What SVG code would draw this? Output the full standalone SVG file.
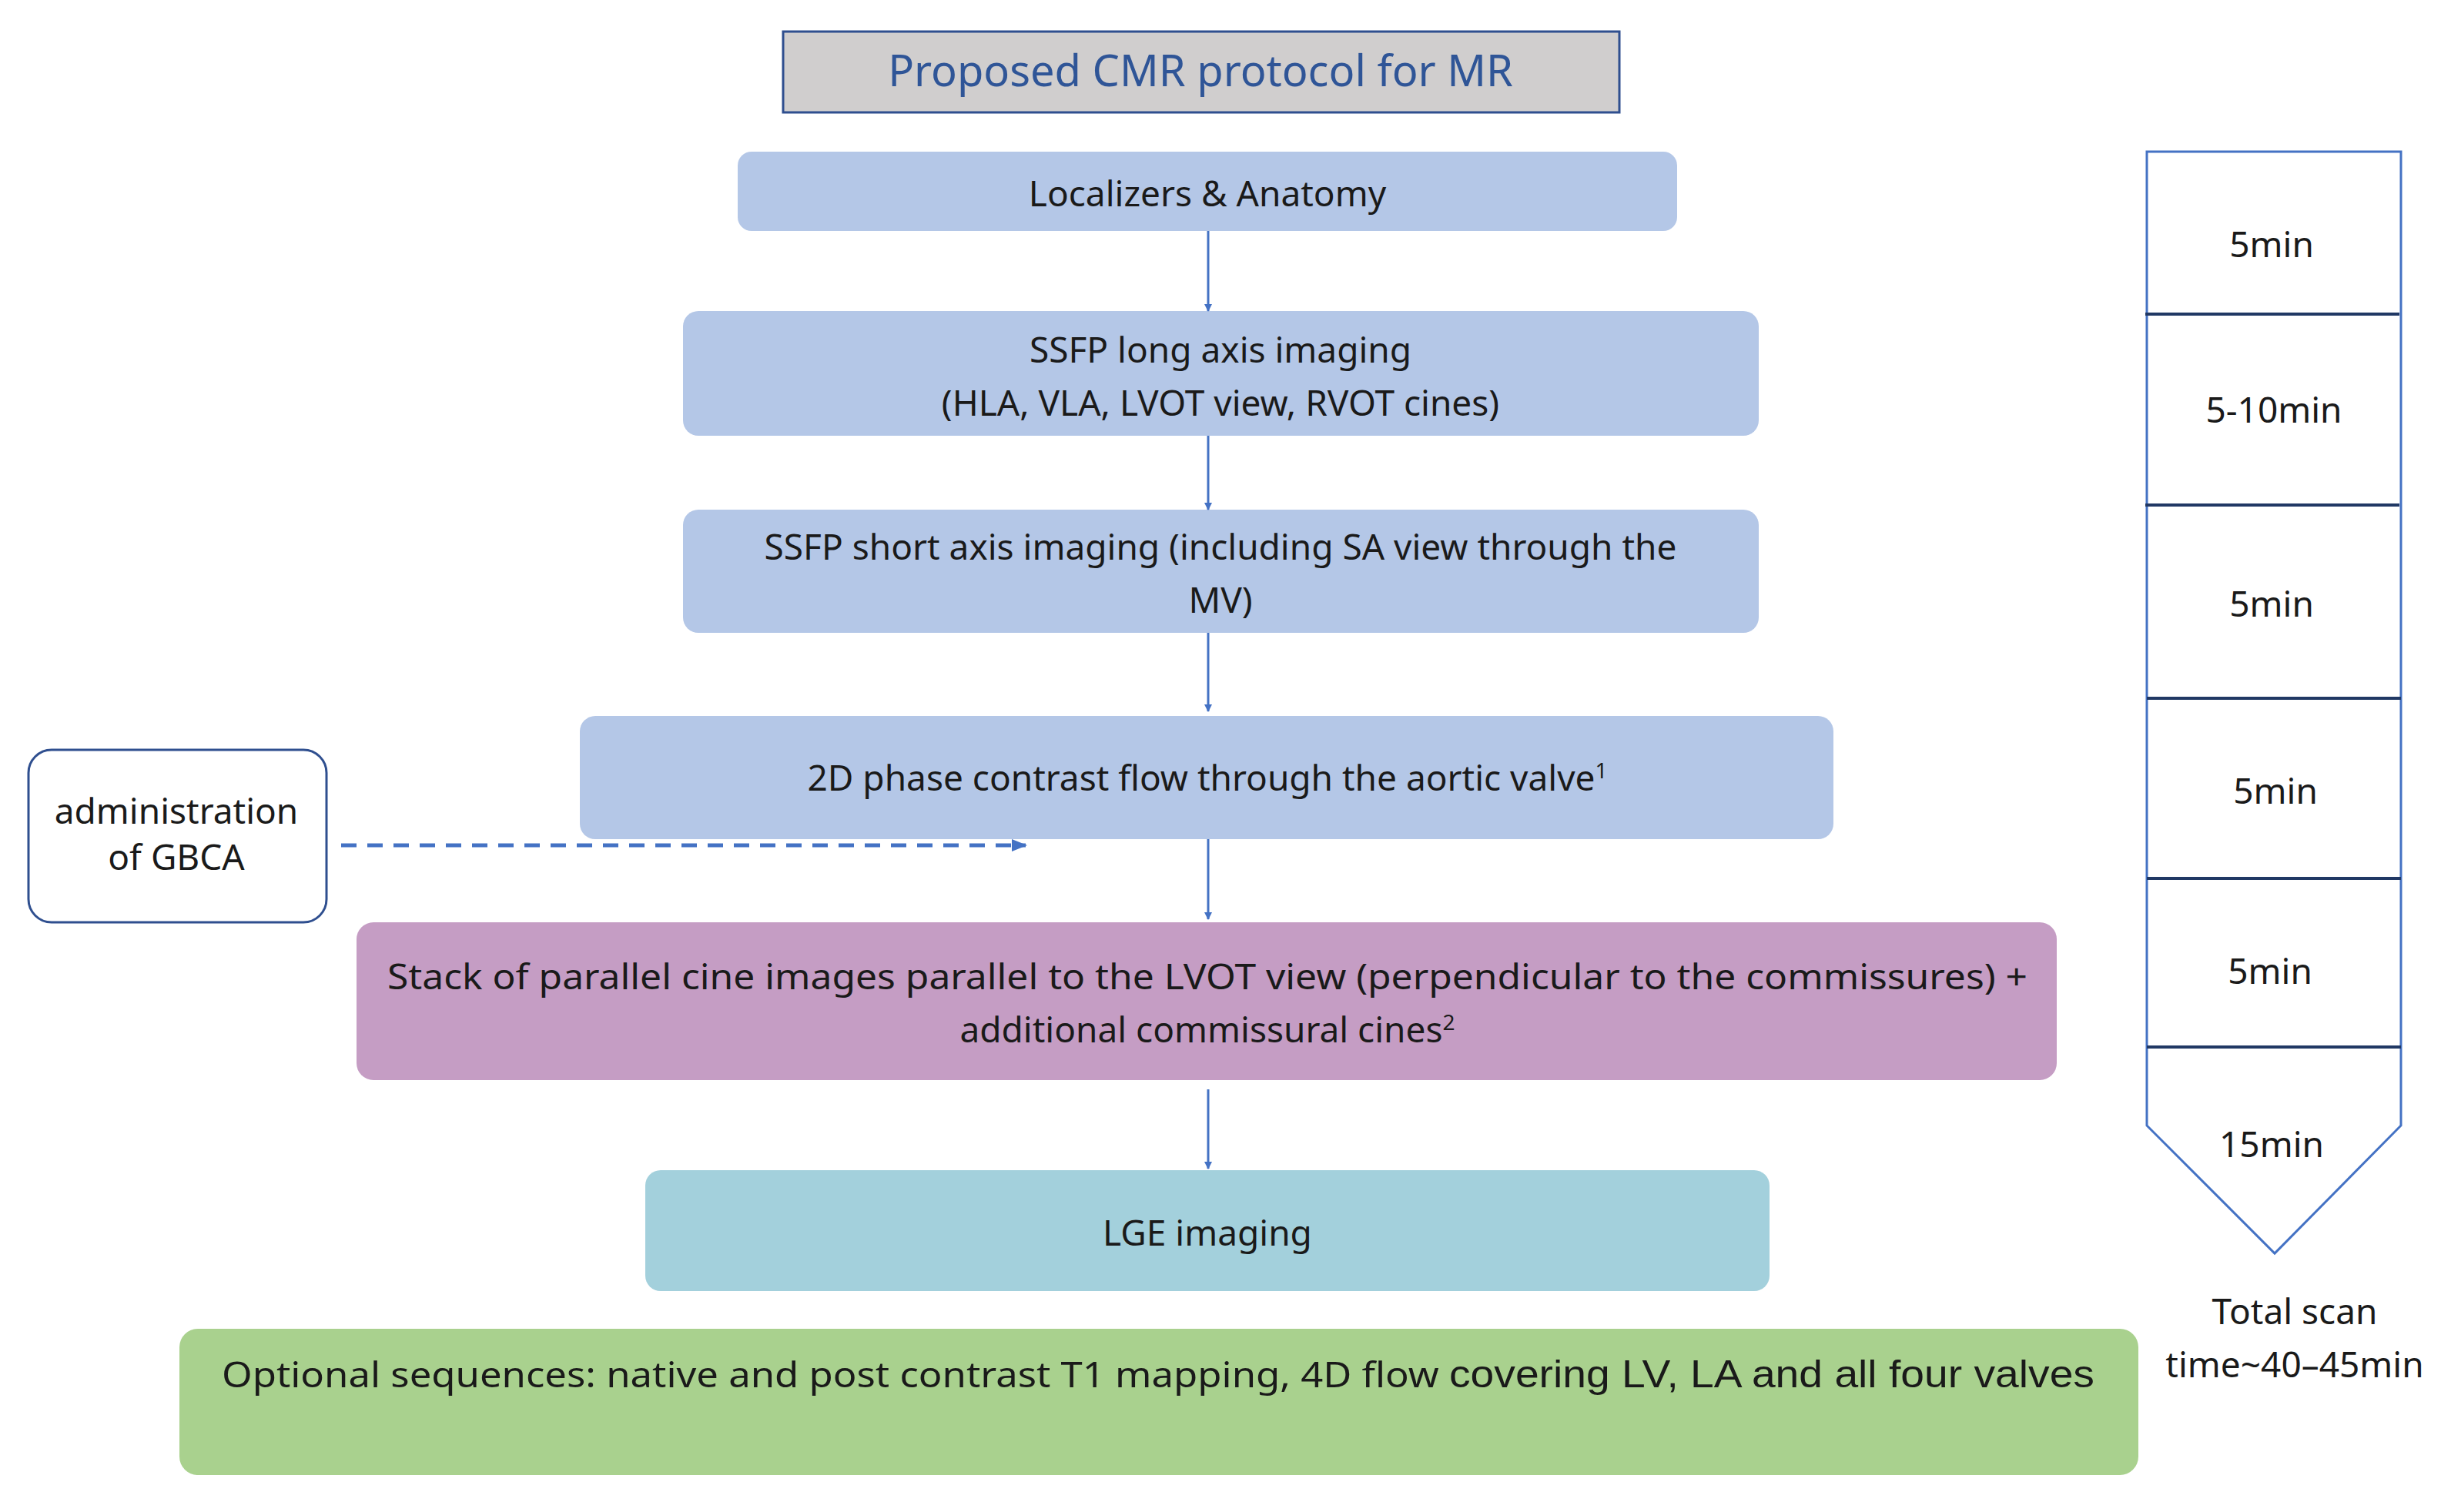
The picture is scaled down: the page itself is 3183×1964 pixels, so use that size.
<svg xmlns="http://www.w3.org/2000/svg" width="3183" height="1964" viewBox="0 0 3183 1964">
<style>
.t{font-family:"Noto Sans","Open Sans",sans-serif;font-size:46px;fill:#1a1a1a;text-anchor:middle}
.b{fill:#b4c7e7}
.c{stroke:#4472c4;stroke-width:3;fill:none}
.tl{stroke:#203864;stroke-width:4;fill:none}
</style>
<defs>
<marker id="a" markerWidth="10" markerHeight="10" refX="9" refY="5" orient="auto" markerUnits="userSpaceOnUse" viewBox="0 0 10 10"><path d="M0,0L10,5L0,10z" fill="#4472c4"/></marker>
<marker id="a2" markerWidth="20" markerHeight="20" refX="18" refY="10" orient="auto" markerUnits="userSpaceOnUse" viewBox="0 0 20 20"><path d="M0,2L20,10L0,18z" fill="#4472c4"/></marker>
</defs>
<rect width="3183" height="1964" fill="#fff"/>
<g id="title"><rect x="1017" y="41" width="1086" height="105" fill="#d0cece" stroke="#2f4f8f" stroke-width="3"/><text x="1559" y="112" class="t" style="font-size:56px;fill:#2f5597">Proposed CMR protocol for MR</text></g>
<g id="n1"><rect x="958" y="197" width="1220" height="103" rx="18" class="b"/><text x="1568" y="268" class="t">Localizers &amp; Anatomy</text></g>
<g id="n2"><rect x="887" y="404" width="1397" height="162" rx="20" class="b"/><text x="1585" y="471" class="t">SSFP long axis imaging</text><text x="1585" y="540" class="t">(HLA, VLA, LVOT view, RVOT cines)</text></g>
<g id="n3"><rect x="887" y="662" width="1397" height="160" rx="20" class="b"/><text x="1585" y="727" class="t">SSFP short axis imaging (including SA view through the</text><text x="1585" y="796" class="t">MV)</text></g>
<g id="n4"><rect x="753" y="930" width="1628" height="160" rx="20" class="b"/><text x="1568" y="1027" class="t">2D phase contrast flow through the aortic valve<tspan dy="-16" style="font-size:28px">1</tspan></text></g>
<g id="n5"><rect x="463" y="1198" width="2208" height="205" rx="22" fill="#c59dc4"/><text x="1568" y="1285" class="t" textLength="2130" lengthAdjust="spacingAndGlyphs">Stack of parallel cine images parallel to the LVOT view (perpendicular to the commissures) +</text><text x="1568" y="1354" class="t">additional commissural cines<tspan dy="-16" style="font-size:28px">2</tspan></text></g>
<g id="n6"><rect x="838" y="1520" width="1460" height="157" rx="20" fill="#a3d0dc"/><text x="1568" y="1618" class="t">LGE imaging</text></g>
<g id="n7"><rect x="233" y="1726" width="2544" height="190" rx="24" fill="#a9d18e"/><text x="288" y="1802" class="t" style="text-anchor:start" textLength="2432" lengthAdjust="spacingAndGlyphs">Optional sequences: native and post contrast T1 mapping, 4D flow <tspan style="font-family:'Liberation Sans',Arial,sans-serif;font-size:50px">covering LV, LA and all four valves</tspan></text></g>
<g id="gbca"><rect x="37" y="974" width="387" height="224" rx="30" fill="#fff" stroke="#2f4f8f" stroke-width="3"/><text x="229" y="1070" class="t">administration</text><text x="229" y="1130" class="t">of GBCA</text></g>
<g id="timeline">
<path class="tl" d="M2788,197H3118V1462L2954,1628L2788,1462Z" style="stroke:#4472c4;stroke-width:3"/>
<path class="tl" d="M2786,408H3116M2786,656H3116M2788,907H3118M2788,1141H3118M2788,1360H3118"/>
<text x="2950" y="334" class="t">5min</text>
<text x="2953" y="549" class="t">5-10min</text>
<text x="2950" y="801" class="t">5min</text>
<text x="2955" y="1044" class="t">5min</text>
<text x="2948" y="1278" class="t">5min</text>
<text x="2950" y="1503" class="t">15min</text>
<text x="2980" y="1720" class="t">Total scan</text>
<text x="2980" y="1789" class="t">time~40–45min</text>
</g>
<g id="connectors">
<path class="c" marker-end="url(#a)" d="M1569,300V404"/>
<path class="c" marker-end="url(#a)" d="M1569,566V662"/>
<path class="c" marker-end="url(#a)" d="M1569,822V924"/>
<path class="c" marker-end="url(#a)" d="M1569,1090V1194"/>
<path class="c" marker-end="url(#a)" d="M1569,1415V1518"/>
<path class="c" marker-end="url(#a2)" d="M443,1098H1332" style="stroke-width:5;stroke-dasharray:20 14"/>
</g>
</svg>
